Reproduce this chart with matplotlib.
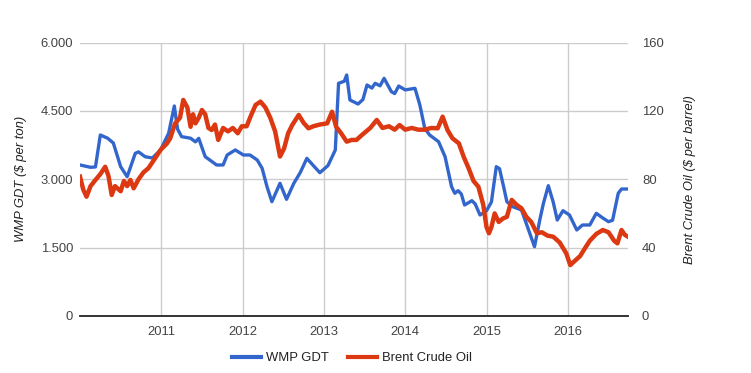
import matplotlib.pyplot as plt
from matplotlib.lines import Line2D

plt.rcParams['font.family'] = ['Liberation Sans', 'DejaVu Sans']

# WMP GDT price, $ per ton (decimal year, value)
gdt_year = [2010.00, 2010.13, 2010.19, 2010.25, 2010.34, 2010.41, 2010.50, 2010.58,
            2010.68, 2010.72, 2010.80, 2010.89, 2010.99, 2011.09, 2011.16, 2011.20,
            2011.25, 2011.36, 2011.42, 2011.46, 2011.54, 2011.68, 2011.76, 2011.81,
            2011.91, 2012.01, 2012.09, 2012.18, 2012.24, 2012.30, 2012.36, 2012.46,
            2012.54, 2012.63, 2012.71, 2012.79, 2012.87, 2012.95, 2013.05, 2013.14,
            2013.18, 2013.25, 2013.28, 2013.32, 2013.42, 2013.48, 2013.53, 2013.59,
            2013.63, 2013.69, 2013.74, 2013.83, 2013.87, 2013.92, 2014.00, 2014.12,
            2014.18, 2014.24, 2014.30, 2014.41, 2014.49, 2014.57, 2014.61, 2014.65,
            2014.69, 2014.73, 2014.82, 2014.86, 2014.92, 2015.00, 2015.06, 2015.12,
            2015.16, 2015.21, 2015.25, 2015.32, 2015.43, 2015.51, 2015.59, 2015.66,
            2015.70, 2015.76, 2015.82, 2015.87, 2015.94, 2016.02, 2016.11, 2016.18,
            2016.27, 2016.35, 2016.43, 2016.50, 2016.55, 2016.62, 2016.66, 2016.72]
gdt_price = [3313, 3262, 3270, 3971, 3900, 3795, 3276, 3056,
             3569, 3600, 3495, 3466, 3642, 4008, 4607, 4100,
             3934, 3900, 3820, 3898, 3495, 3313, 3313, 3532,
             3642, 3532, 3532, 3422, 3240, 2837, 2508, 2911,
             2560, 2911, 3150, 3459, 3300, 3144, 3300, 3642,
             5105, 5150, 5287, 4739, 4651, 4750, 5068, 5000,
             5105, 5050, 5214, 4921, 4880, 5045, 4960, 4995,
             4629, 4118, 3971, 3824, 3495, 2837, 2692, 2750,
             2676, 2435, 2530, 2460, 2216, 2310, 2500, 3276,
             3230, 2837, 2508, 2400, 2325, 1924, 1520, 2150,
             2472, 2859, 2500, 2106, 2310, 2216, 1887, 1996,
             1996, 2253, 2150, 2069, 2100, 2692, 2786, 2786]

# Brent crude oil, $ per barrel (decimal year, value)
oil_year = [2010.00, 2010.04, 2010.08, 2010.13, 2010.19, 2010.25, 2010.31, 2010.35,
            2010.39, 2010.43, 2010.50, 2010.54, 2010.58, 2010.62, 2010.66, 2010.72,
            2010.78, 2010.84, 2010.91, 2010.99, 2011.07, 2011.11, 2011.17, 2011.23,
            2011.27, 2011.32, 2011.36, 2011.39, 2011.42, 2011.46, 2011.50, 2011.54,
            2011.58, 2011.62, 2011.66, 2011.70, 2011.76, 2011.82, 2011.88, 2011.94,
            2011.99, 2012.05, 2012.10, 2012.16, 2012.22, 2012.28, 2012.34, 2012.40,
            2012.46, 2012.51, 2012.56, 2012.61, 2012.69, 2012.75, 2012.81, 2012.87,
            2012.95, 2013.04, 2013.10, 2013.15, 2013.21, 2013.28, 2013.34, 2013.40,
            2013.47, 2013.57, 2013.65, 2013.72, 2013.80, 2013.87, 2013.93, 2014.00,
            2014.08, 2014.16, 2014.24, 2014.32, 2014.40, 2014.46, 2014.52, 2014.58,
            2014.66, 2014.72, 2014.78, 2014.84, 2014.90, 2014.96, 2015.00, 2015.03,
            2015.06, 2015.10, 2015.15, 2015.20, 2015.25, 2015.31, 2015.37, 2015.43,
            2015.49, 2015.55, 2015.62, 2015.68, 2015.75, 2015.82, 2015.90, 2015.98,
            2016.03, 2016.08, 2016.15, 2016.21, 2016.27, 2016.35, 2016.43, 2016.50,
            2016.57, 2016.61, 2016.66, 2016.70, 2016.74]
oil_price = [81.5, 74, 69.8, 76, 79.6, 83, 87.3, 82,
             70.8, 76, 73, 79, 76, 79.6, 74.7, 80,
             84, 86.4, 91.3, 97.1, 101, 104, 112.7, 116,
             126.4, 122, 110.7, 118, 112.7, 116, 120.5, 118,
             110, 108.8, 112, 103, 110, 108, 110, 106.9,
             111, 111, 117, 123.5, 125.4, 122, 116, 108,
             93.3, 98, 106.9, 111.7, 117.6, 113, 109.8, 111,
             112, 112.7, 119.5, 110.7, 107, 102, 103, 103,
             106, 110, 114.7, 110, 111, 109, 111.7, 109,
             110, 109, 109, 110, 109.8, 116.6, 108.8, 104,
             101, 93, 86.4, 79, 75.6, 65, 52, 48.4,
             52, 60, 55, 57, 58, 67.9, 65, 63,
             58, 55, 48.4, 49, 47, 46.4, 43, 36.7,
             29.8, 32, 35, 39.6, 44, 48, 50.3, 49,
             44, 42.5, 50.3, 47.5, 46.4]

years = [2011, 2012, 2013, 2014, 2015, 2016]
left_ticks = [0, 1500, 3000, 4500, 6000]
left_labels = ['0', '1.500', '3.000', '4.500', '6.000']
right_ticks = [0, 40, 80, 120, 160]

blue = '#3366cc'
red = '#dc3912'
fs = 9.4

fig = plt.figure(figsize=(7.51, 3.73), dpi=100)
ax = fig.add_axes([80 / 751, 1 - 316 / 373, 548 / 751, 273.5 / 373])
ax2 = ax.twinx()

ax.plot(gdt_year, gdt_price, color=blue, lw=2.4, solid_joinstyle='round')
ax2.plot(oil_year, oil_price, color=red, lw=3.2, solid_joinstyle='round')

ax.set_xlim(2010.0, 2016.74)
ax.set_ylim(0, 6000)
ax2.set_ylim(0, 160)

ax.set_xticks(years)
ax.set_xticklabels([str(y) for y in years])
ax.set_yticks(left_ticks)
ax.set_yticklabels(left_labels)
ax2.set_yticks(right_ticks)
ax2.set_yticklabels([str(v) for v in right_ticks])

ax.grid(True, color='#cccccc', lw=1)
ax.set_axisbelow(True)
for a in (ax, ax2):
    for side in ('top', 'left', 'right'):
        a.spines[side].set_visible(False)
    a.spines['bottom'].set_color('#333333')
    a.spines['bottom'].set_linewidth(1.2)
    a.tick_params(length=0, labelsize=fs, labelcolor='#444444')
ax.tick_params(axis='y', pad=5)
ax.tick_params(axis='x', pad=7)
ax2.tick_params(axis='y', pad=10)

ax.set_ylabel('WMP GDT ($ per ton)', fontsize=fs, style='italic', color='#222222')
ax.yaxis.set_label_coords(-0.097, 0.5)
ax2.set_ylabel('Brent Crude Oil ($ per barrel)', fontsize=fs, style='italic', color='#222222')
ax2.yaxis.set_label_coords(1.102, 0.5)

handles = [Line2D([], [], color=blue, lw=3), Line2D([], [], color=red, lw=3)]
fig.legend(handles, ['WMP GDT', 'Brent Crude Oil'], loc='center',
           bbox_to_anchor=(352 / 751, 1 - 358 / 373), ncol=2, frameon=False,
           fontsize=fs, handlelength=2.2, handletextpad=0.35, columnspacing=1.5,
           labelcolor='#222222')

fig.savefig('out.png', dpi=100)
